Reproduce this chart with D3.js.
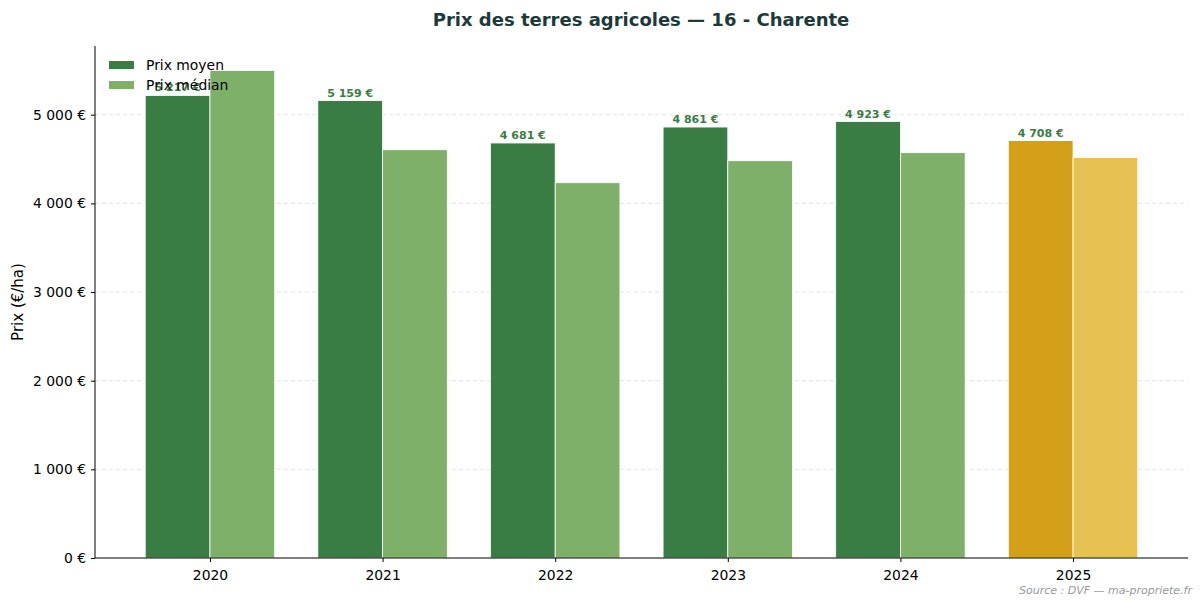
<!DOCTYPE html>
<html><head><meta charset="utf-8">
<script src="https://cdn.jsdelivr.net/npm/d3@7"></script>
<style>body{margin:0;background:#fff}svg{font-family:"DejaVu Sans",sans-serif}</style>
</head><body><svg id="c" width="1203" height="606"></svg>
<script>
const years = ["2020","2021","2022","2023","2024","2025"];
const meanValues = [5217, 5159, 4681, 4861, 4923, 4708];
const medianValues = [5500, 4605, 4233, 4481, 4572, 4517];
const yTicks = [0, 1000, 2000, 3000, 4000, 5000];
const seriesNames = ["Prix moyen", "Prix médian"];

const svg = d3.select("#c");
const L = 95, R = 1188, T = 46, B = 558;
const x = d3.scalePoint().domain(years).range([L, R]).padding(0.666);
const step = x.step();
const bw = step * 0.375;
const y = d3.scaleLinear().domain([0, 5775]).range([B, T]);
const fmt = v => d3.format(",")(v).replace(/,/g, " ");

// grid
svg.append("g").selectAll("line").data(yTicks.filter(d => d > 0)).join("line")
  .attr("x1", L).attr("x2", R).attr("y1", d => y(d)).attr("y2", d => y(d))
  .attr("stroke", "#dddddd").attr("stroke-dasharray", "4,3").attr("stroke-width", 0.8);

const colMean = (d, i) => years[i] === "2025" ? "#d4a01a" : "#3a7d44";
const colMed = (d, i) => years[i] === "2025" ? "#e6c252" : "#7fb069";

svg.append("g").selectAll("rect").data(meanValues).join("rect")
  .attr("x", (d, i) => x(years[i]) - bw).attr("width", bw)
  .attr("y", d => y(d)).attr("height", d => B - y(d))
  .attr("fill", colMean).attr("stroke", "#fff").attr("stroke-width", 0.8);
svg.append("g").selectAll("rect").data(medianValues).join("rect")
  .attr("x", (d, i) => x(years[i])).attr("width", bw)
  .attr("y", d => y(d)).attr("height", d => B - y(d))
  .attr("fill", colMed).attr("stroke", "#fff").attr("stroke-width", 0.8);

// value labels
svg.append("g").selectAll("text").data(meanValues).join("text")
  .attr("x", (d, i) => x(years[i]) - bw / 2).attr("y", d => y(d) - 4)
  .attr("text-anchor", "middle").attr("font-size", 11).attr("font-weight", "bold")
  .attr("fill", "#3a7d44").text(d => fmt(d) + " €");

// axes
const yAxis = d3.axisLeft(y).tickValues(yTicks).tickSize(4).tickPadding(5).tickFormat(d => fmt(d) + " €");
const gy = svg.append("g").attr("transform", `translate(${L},0)`).call(yAxis);
gy.select(".domain").attr("d", `M0,${B}V${T}`);
gy.selectAll("text").attr("font-size", 13.9).attr("font-family", "DejaVu Sans").attr("fill", "#000");
const xAxis = d3.axisBottom(x).tickSize(4).tickPadding(8);
const gx = svg.append("g").attr("transform", `translate(0,${B})`).call(xAxis);
gx.select(".domain").attr("d", `M${L},0H${R}`);
gx.selectAll("text").attr("font-size", 13.9).attr("font-family", "DejaVu Sans").attr("fill", "#000");

// y label
svg.append("text").attr("transform", `translate(23,${(T + B) / 2}) rotate(-90)`)
  .attr("text-anchor", "middle").attr("font-size", 15).text("Prix (€/ha)");

// title
svg.append("text").attr("x", 641).attr("y", 26).attr("text-anchor", "middle")
  .attr("font-size", 18).attr("font-weight", "bold").attr("fill", "#1c3a3a")
  .text("Prix des terres agricoles — 16 - Charente");

// legend
const lg = svg.append("g").selectAll("g").data(seriesNames).join("g")
  .attr("transform", (d, i) => `translate(109,${61 + i * 20})`);
lg.append("rect").attr("width", 25).attr("height", 8).attr("fill", (d, i) => i ? "#7fb069" : "#3a7d44");
lg.append("text").attr("x", 37).attr("y", 9).attr("font-size", 13.9).text(d => d);

// source
svg.append("text").attr("x", 1192).attr("y", 594).attr("text-anchor", "end")
  .attr("font-size", 11).attr("font-style", "italic").attr("fill", "#999")
  .text("Source : DVF — ma-propriete.fr");
</script></body></html>
